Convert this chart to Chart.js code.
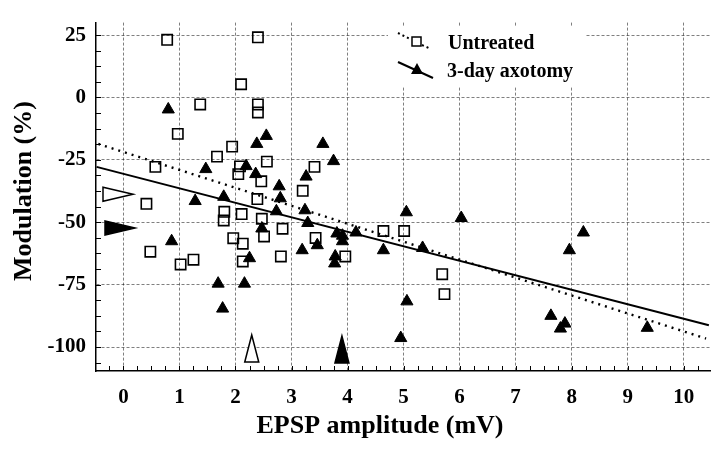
<!DOCTYPE html>
<html>
<head>
<meta charset="utf-8">
<script src="https://cdn.jsdelivr.net/npm/chart.js@4.4.0/dist/chart.umd.min.js"></script>
<style>
  html, body { margin: 0; padding: 0; background: #fff; }
  #wrap { width: 720px; height: 453px; }
</style>
</head>
<body>
<div id="wrap"><canvas id="chart" width="720" height="453"></canvas></div>
<script>
// EPSP amplitude (mV) vs modulation (%)
const untreatedX = [0.78, 2.40, 2.10, 1.37, 2.40, 2.40, 0.97, 1.94, 1.67, 0.57, 2.56, 2.08, 2.05, 3.41, 3.20, 2.46, 2.39, 0.41, 1.80, 1.79, 2.11, 2.47, 2.84, 1.96, 2.13, 2.51, 3.43, 0.48, 1.02, 1.25, 2.13, 2.81, 3.96, 4.64, 5.01, 5.69, 5.73];
const untreatedY = [23.1, 24.1, 5.3, -2.8, -2.8, -6.0, -14.6, -19.7, -23.7, -27.8, -25.7, -27.6, -30.7, -27.8, -37.4, -33.6, -40.7, -42.6, -45.8, -49.3, -46.7, -48.6, -52.6, -56.4, -58.6, -55.7, -56.3, -61.8, -66.9, -65.0, -65.7, -63.7, -63.7, -53.5, -53.5, -70.8, -78.8];

const axotomyX = [0.80, 2.55, 2.38, 3.56, 3.75, 1.47, 2.19, 2.36, 2.78, 3.26, 2.80, 1.79, 1.28, 2.73, 3.24, 3.29, 2.47, 3.81, 3.91, 3.91, 4.15, 0.86, 3.19, 3.46, 4.64, 5.05, 2.25, 3.78, 3.77, 1.69, 2.16, 1.77, 5.06, 4.95, 6.03, 5.34, 8.21, 7.96, 7.63, 7.88, 7.80, 9.35];
const axotomyY = [-4.8, -15.4, -18.6, -18.6, -25.5, -28.7, -27.5, -30.7, -35.6, -31.7, -40.4, -39.8, -41.5, -45.6, -45.2, -50.3, -52.5, -54.5, -55.4, -57.6, -54.1, -57.6, -61.2, -59.2, -61.2, -46.0, -64.4, -63.7, -66.5, -74.6, -74.6, -84.6, -81.7, -96.4, -48.3, -60.3, -54.1, -61.2, -87.5, -90.6, -92.6, -92.3];

// regression line end points
const untreatedFitX = [-0.45, 10.4];
const untreatedFitY = [-18.6, -96.6];
const axotomyFitX = [-0.48, 10.45];
const axotomyFitY = [-27.8, -91.3];

// group means (arrowheads on the axes)
const untreatedMean = { x: 2.29, y: -38.8 };
const axotomyMean = { x: 3.90, y: -52.3 };

const xTicks = [0, 1, 2, 3, 4, 5, 6, 7, 8, 9, 10];
const yTicks = [-100, -75, -50, -25, 0, 25];

const FONT = "'Liberation Serif', 'Times New Roman', serif";

const pts = (xs, ys) => xs.map((x, i) => ({ x, y: ys[i] }));

function onlyTicks(list) {
  return scale => { scale.ticks = list.map(v => ({ value: v })); };
}

// small inward ticks on both axes (major + 3 minor)
const innerTicks = {
  id: "innerTicks",
  afterDraw(chart) {
    const { ctx, chartArea: a, scales: { x, y } } = chart;
    ctx.save();
    ctx.strokeStyle = "#000";
    ctx.lineWidth = 1;
    ctx.beginPath();
    for (let v = -0.25; v <= x.max; v += 0.25) {
      const px = Math.round(x.getPixelForValue(v)) + 0.5;
      ctx.moveTo(px, a.bottom);
      ctx.lineTo(px, a.bottom - 5);
    }
    for (let v = 25; v >= y.min; v -= 6.25) {
      const py = Math.round(y.getPixelForValue(v)) + 0.5;
      ctx.moveTo(a.left, py);
      ctx.lineTo(a.left + 5, py);
    }
    ctx.stroke();
    ctx.restore();
  }
};

// axis titles
const titles = {
  id: "titles",
  afterDraw(chart) {
    const { ctx } = chart;
    ctx.save();
    ctx.fillStyle = "#000";
    ctx.font = "bold 26px " + FONT;
    ctx.textAlign = "center";
    ctx.textBaseline = "middle";
    ctx.fillText("EPSP amplitude (mV)", 380, 426);
    ctx.translate(24, 191);
    ctx.rotate(-Math.PI / 2);
    ctx.fillText("Modulation (%)", 0, 0);
    ctx.restore();
  }
};

function drawArrow(ctx, tipX, tipY, dir, filled) {
  const len = 30, half = 7;
  ctx.beginPath();
  if (dir === "right") {
    ctx.moveTo(tipX, tipY);
    ctx.lineTo(tipX - len, tipY - half);
    ctx.lineTo(tipX - len, tipY + half);
  } else {
    ctx.moveTo(tipX, tipY);
    ctx.lineTo(tipX - half, tipY + len - 3);
    ctx.lineTo(tipX + half, tipY + len - 3);
  }
  ctx.closePath();
  ctx.fillStyle = filled ? "#000" : "#fff";
  ctx.fill();
  ctx.lineWidth = 1.5;
  ctx.strokeStyle = "#000";
  ctx.stroke();
}

const meanArrows = {
  id: "meanArrows",
  afterDatasetsDraw(chart) {
    const { ctx, chartArea: a, scales: { x, y } } = chart;
    ctx.save();
    drawArrow(ctx, a.left + 37, y.getPixelForValue(untreatedMean.y), "right", false);
    drawArrow(ctx, a.left + 39, y.getPixelForValue(axotomyMean.y), "right", true);
    drawArrow(ctx, x.getPixelForValue(untreatedMean.x), a.bottom - 36, "up", false);
    drawArrow(ctx, x.getPixelForValue(axotomyMean.x), a.bottom - 35, "up", true);
    ctx.restore();
  }
};

// legend in the upper right of the plot
const legendBox = {
  id: "legendBox",
  afterDatasetsDraw(chart) {
    const { ctx } = chart;
    ctx.save();
    ctx.fillStyle = "#fff";
    ctx.fillRect(388, 26, 198, 61);

    ctx.strokeStyle = "#000";
    ctx.fillStyle = "#000";
    // dotted sample + square
    ctx.lineWidth = 2;
    ctx.setLineDash([2, 3]);
    ctx.beginPath();
    ctx.moveTo(398, 33); ctx.lineTo(410, 39);
    ctx.moveTo(422, 45); ctx.lineTo(431, 49);
    ctx.stroke();
    ctx.setLineDash([]);
    ctx.lineWidth = 1.5;
    ctx.strokeRect(412, 37, 9, 9);
    // solid sample + triangle
    ctx.lineWidth = 2;
    ctx.beginPath();
    ctx.moveTo(398, 62); ctx.lineTo(433, 78);
    ctx.stroke();
    ctx.beginPath();
    ctx.moveTo(417, 63); ctx.lineTo(411, 74); ctx.lineTo(423, 74);
    ctx.closePath();
    ctx.fill();

    ctx.font = "bold 20px " + FONT;
    ctx.textAlign = "left";
    ctx.textBaseline = "alphabetic";
    ctx.fillText("Untreated", 448, 49);
    ctx.fillText("3-day axotomy", 447, 77);
    ctx.restore();
  }
};

new Chart(document.getElementById("chart"), {
  type: "scatter",
  data: {
    datasets: [
      {
        label: "3-day axotomy",
        data: pts(axotomyX, axotomyY),
        pointStyle: "triangle",
        pointRadius: 7,
        pointHoverRadius: 7,
        backgroundColor: "#000",
        borderColor: "#000",
        borderWidth: 1,
        order: 1
      },
      {
        label: "Untreated",
        data: pts(untreatedX, untreatedY),
        pointStyle: "rect",
        pointRadius: 7.3,
        pointHoverRadius: 7.3,
        backgroundColor: "rgba(0,0,0,0)",
        borderColor: "#000",
        borderWidth: 1.6,
        order: 2
      },
      {
        label: "Untreated fit",
        data: pts(untreatedFitX, untreatedFitY),
        showLine: true,
        pointRadius: 0,
        borderColor: "#000",
        borderWidth: 2.4,
        borderDash: [2, 5],
        order: 3
      },
      {
        label: "Axotomy fit",
        data: pts(axotomyFitX, axotomyFitY),
        showLine: true,
        pointRadius: 0,
        borderColor: "#000",
        borderWidth: 2,
        order: 3
      }
    ]
  },
  options: {
    responsive: false,
    animation: false,
    layout: { padding: { left: 0, top: 8, right: 10, bottom: 0 } },
    plugins: {
      legend: { display: false },
      tooltip: { enabled: false }
    },
    scales: {
      x: {
        type: "linear",
        min: -0.49,
        max: 10.47,
        afterBuildTicks: onlyTicks(xTicks),
        afterFit: s => { s.height = 82; },
        grid: { color: "rgba(0,0,0,0.5)", lineWidth: 1, drawTicks: false },
        border: { display: true, color: "#000", width: 1.5, dash: [3, 2] },
        ticks: {
          padding: 14,
          color: "#000",
          font: { family: FONT, size: 21, weight: "bold" }
        }
      },
      y: {
        type: "linear",
        min: -109.6,
        max: 30,
        afterBuildTicks: onlyTicks(yTicks),
        afterFit: s => { s.width = 96; },
        grid: { color: "rgba(0,0,0,0.5)", lineWidth: 1, drawTicks: false },
        border: { display: true, color: "#000", width: 1.5, dash: [3, 2] },
        ticks: {
          padding: 10,
          color: "#000",
          font: { family: FONT, size: 21, weight: "bold" }
        }
      }
    }
  },
  plugins: [innerTicks, legendBox, meanArrows, titles]
});
</script>
</body>
</html>
